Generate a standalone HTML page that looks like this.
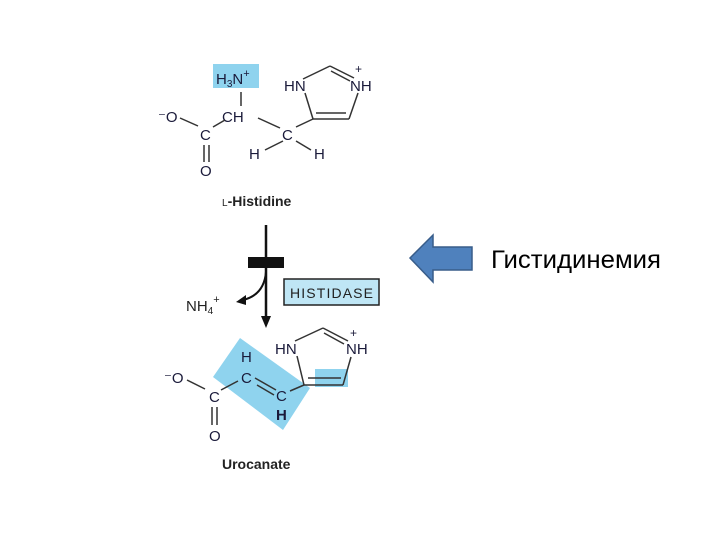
<!DOCTYPE html>
<html><head><meta charset="utf-8"><style>html,body{margin:0;padding:0;background:#fff}svg{display:block}</style></head>
<body>
<svg width="720" height="540" viewBox="0 0 720 540" xmlns="http://www.w3.org/2000/svg" font-family="Liberation Sans, Arial, sans-serif">
<rect width="720" height="540" fill="#fff"/>
<rect x="213" y="64" width="46" height="24" fill="#8fd3ee"/>
<g fill="#1a1a3a" font-size="15">
<text x="216" y="84">H<tspan font-size="10" dy="3">3</tspan><tspan dy="-3">N</tspan><tspan font-size="11" dy="-7">+</tspan></text>
<text x="284" y="91">HN</text>
<text x="350" y="91">NH</text>
<text x="355" y="73" font-size="12">+</text>
<text x="158" y="122">⁻O</text>
<text x="222" y="122">CH</text>
<text x="200" y="140">C</text>
<text x="200" y="176">O</text>
<text x="282" y="140">C</text>
<text x="249" y="159">H</text>
<text x="314" y="159">H</text>
</g>
<g stroke="#333" stroke-width="1.5" fill="none">
<line x1="241" y1="92" x2="241" y2="106"/>
<line x1="180" y1="118" x2="198" y2="126"/>
<line x1="213" y1="127" x2="225" y2="120"/>
<line x1="204" y1="145" x2="204" y2="162"/>
<line x1="209" y1="145" x2="209" y2="162"/>
<line x1="258" y1="118" x2="280" y2="128"/>
<line x1="283" y1="141" x2="265" y2="150"/>
<line x1="296" y1="141" x2="311" y2="150"/>
<line x1="296" y1="127" x2="313" y2="119"/>
<line x1="303" y1="79" x2="330" y2="66"/>
<line x1="330" y1="66" x2="354" y2="78"/>
<line x1="331" y1="71" x2="350" y2="81"/>
<line x1="305" y1="93" x2="313" y2="119"/>
<line x1="313" y1="119" x2="349" y2="119"/>
<line x1="316" y1="113" x2="346" y2="113"/>
<line x1="349" y1="119" x2="358" y2="93"/>
</g>
<text x="222" y="206" font-size="14" font-weight="bold" fill="#222"><tspan font-size="10" font-weight="normal">L</tspan>-Histidine</text>
<line x1="266" y1="225" x2="266" y2="318" stroke="#111" stroke-width="2.5"/>
<polygon points="261,316 271,316 266,328" fill="#111"/>
<rect x="248" y="257" width="36" height="11" fill="#111"/>
<path d="M266,272 Q264,295 243,300" stroke="#111" stroke-width="2" fill="none"/>
<polygon points="236,302 246,295 246,305" fill="#111"/>
<text x="186" y="311" font-size="15" fill="#222">NH<tspan font-size="10" dy="3">4</tspan><tspan font-size="11" dy="-11">+</tspan></text>
<rect x="284" y="279" width="95" height="26" fill="#bfe6f5" stroke="#222" stroke-width="1.5"/>
<text x="290" y="298" font-size="14" fill="#222" textLength="83">HISTIDASE</text>
<polygon points="213,377 240,338 310,388 283,430" fill="#8fd3ee"/>
<rect x="315" y="369" width="33" height="18" fill="#8fd3ee"/>
<g fill="#1a1a3a" font-size="15">
<text x="275" y="354">HN</text>
<text x="346" y="354">NH</text>
<text x="350" y="337" font-size="12">+</text>
<text x="164" y="383">⁻O</text>
<text x="209" y="402">C</text>
<text x="209" y="441">O</text>
<text x="241" y="362">H</text>
<text x="241" y="383">C</text>
<text x="276" y="401">C</text>
<text x="276" y="420" font-weight="bold">H</text>
</g>
<g stroke="#333" stroke-width="1.5" fill="none">
<line x1="187" y1="380" x2="205" y2="389"/>
<line x1="221" y1="390" x2="238" y2="381"/>
<line x1="212" y1="407" x2="212" y2="425"/>
<line x1="217" y1="407" x2="217" y2="425"/>
<line x1="255" y1="378" x2="276" y2="390"/>
<line x1="257" y1="385" x2="274" y2="395"/>
<line x1="290" y1="391" x2="304" y2="385"/>
<line x1="295" y1="341" x2="323" y2="328"/>
<line x1="323" y1="328" x2="348" y2="341"/>
<line x1="324" y1="333" x2="344" y2="344"/>
<line x1="297" y1="356" x2="304" y2="385"/>
<line x1="304" y1="385" x2="343" y2="385"/>
<line x1="308" y1="378" x2="341" y2="378"/>
<line x1="343" y1="385" x2="351" y2="357"/>
</g>
<text x="222" y="469" font-size="14" font-weight="bold" fill="#222">Urocanate</text>
<polygon points="410,258 433,235 433,247 472,247 472,270 433,270 433,282" fill="#4f81bd" stroke="#385d8a" stroke-width="1.5"/>
<text x="491" y="268" font-size="25" fill="#000" textLength="170" lengthAdjust="spacingAndGlyphs">Гистидинемия</text>
</svg>
</body></html>
